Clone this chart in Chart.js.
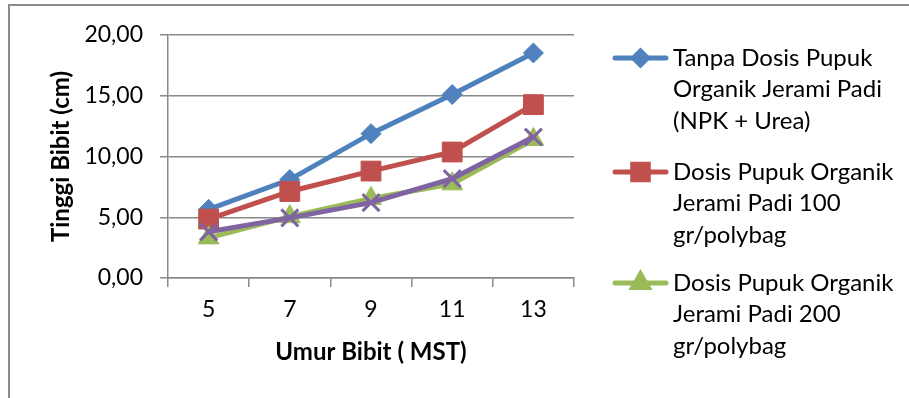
<!DOCTYPE html>
<html>
<head>
<meta charset="utf-8">
<script src="https://cdn.jsdelivr.net/npm/chart.js@4/dist/chart.umd.min.js"></script>
<style>
  html, body { margin: 0; padding: 0; background: #fff; }
  #wrap { position: relative; width: 909px; height: 398px; }
</style>
</head>
<body>
<div id="wrap"><canvas id="c" width="909" height="398"></canvas></div>
<script>
const categories = ['5', '7', '9', '11', '13'];
const seriesNames = [
  ['Tanpa Dosis Pupuk', 'Organik Jerami Padi', '(NPK + Urea)'],
  ['Dosis Pupuk Organik', 'Jerami Padi 100', 'gr/polybag'],
  ['Dosis Pupuk Organik', 'Jerami Padi 200', 'gr/polybag'],
  ['Dosis Pupuk Organik', 'Jerami Padi 300', 'gr/polybag']
];
const tanpaDosis = [5.65, 8.10, 11.88, 15.10, 18.52];
const dosis100 = [4.85, 7.12, 8.80, 10.37, 14.27];
const dosis200 = [3.30, 5.05, 6.55, 7.75, 11.40];
const dosis300 = [3.80, 4.95, 6.20, 8.18, 11.60];
const yTicks = [0, 5, 10, 15, 20];
const yTitle = 'Tinggi Bibit (cm)';
const xTitle = 'Umur Bibit ( MST)';

const colors = ['#4F81BD', '#C0504D', '#9BBB59', '#8064A2'];
const styles = ['rectRot', 'rect', 'triangle', 'crossRot'];
const radii = [10, 14, 12, 12];
const legendRadii = [7, 11, 9, 9];
const FONT = 'Lato';
const GRID = '#898989';

const values = [tanpaDosis, dosis100, dosis200, dosis300];
const datasets = values.map((v, i) => ({
  label: seriesNames[i].join(' '),
  data: v,
  borderColor: colors[i],
  backgroundColor: colors[i],
  borderWidth: 5,
  pointStyle: styles[i],
  pointRadius: radii[i],
  pointHoverRadius: radii[i],
  pointBorderColor: colors[i],
  pointBackgroundColor: colors[i],
  pointBorderWidth: styles[i] === 'crossRot' ? 3 : 1,
  order: 4 - i,
  tension: 0
}));

const frameAndLegend = {
  id: 'frameAndLegend',
  afterDraw(chart) {
    const ctx = chart.ctx;
    ctx.save();
    ctx.strokeStyle = '#8c8c8c';
    ctx.lineWidth = 2;
    ctx.beginPath();
    ctx.moveTo(9, 420);
    ctx.lineTo(9, 5);
    ctx.lineTo(920, 5);
    ctx.stroke();

    const entryTops = [58, 172, 283];
    const lineGap = 31.5;
    for (let i = 0; i < 3; i++) {
      const y = entryTops[i];
      ctx.strokeStyle = colors[i];
      ctx.lineWidth = 5;
      ctx.lineCap = 'round';
      ctx.beginPath();
      ctx.moveTo(615, y);
      ctx.lineTo(666, y);
      ctx.stroke();
      ctx.fillStyle = colors[i];
      Chart.helpers.drawPoint(ctx, {
        pointStyle: styles[i], radius: legendRadii[i], rotation: 0, borderWidth: 1
      }, 640.5, y);
      ctx.fillStyle = '#000';
      ctx.font = '24px ' + FONT;
      ctx.textBaseline = 'middle';
      ctx.textAlign = 'left';
      seriesNames[i].forEach((t, k) => ctx.fillText(t, 673, y + k * lineGap));
    }
    ctx.restore();
  }
};

new Chart(document.getElementById('c'), {
  type: 'line',
  data: { labels: categories, datasets },
  plugins: [frameAndLegend],
  options: {
    responsive: false,
    animation: false,
    layout: { padding: { left: 0, top: 35, right: 335, bottom: 0 } },
    plugins: { legend: { display: false }, tooltip: { enabled: false } },
    scales: {
      x: {
        offset: true,
        grid: { offset: true, drawOnChartArea: false, drawTicks: true, tickLength: 9, color: GRID, lineWidth: 1.5 },
        border: { display: true, color: GRID, width: 1.5 },
        ticks: { color: '#000', font: { family: FONT, size: 23 }, padding: 9, maxRotation: 0 },
        title: { display: true, text: xTitle, color: '#000', font: { family: FONT, size: 24, weight: 'bold' }, padding: { top: 4, bottom: 31.5 } },
        afterFit(s) { s.height = 120; }
      },
      y: {
        min: 0, max: 20,
        afterBuildTicks(s) { s.ticks = yTicks.map(v => ({ value: v })); },
        grid: { color: GRID, lineWidth: 1.5, tickLength: 8 },
        border: { display: true, color: GRID, width: 1.5 },
        ticks: { color: '#000', font: { family: FONT, size: 23 }, padding: 17,
          callback: v => v.toFixed(2).replace('.', ',') },
        title: { display: true, text: yTitle, color: '#000', font: { family: FONT, size: 24, weight: 'bold' }, padding: { top: 46.5, bottom: 0 } },
        afterFit(s) { s.width = 168; }
      }
    }
  }
});
</script>
</body>
</html>
